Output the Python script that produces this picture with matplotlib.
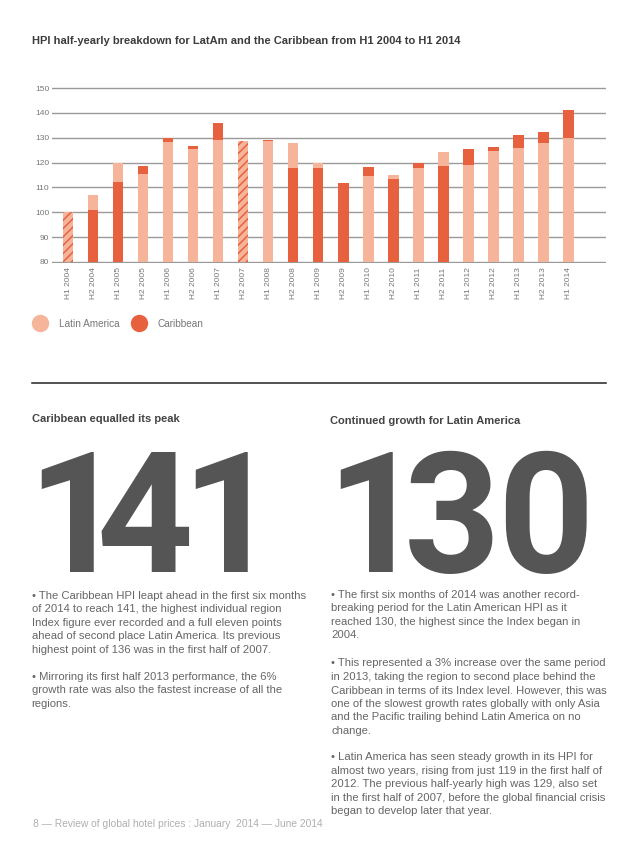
import logging
import numpy as np
import matplotlib
matplotlib.use('Agg')
import matplotlib.pyplot as plt
from matplotlib.lines import Line2D

logging.getLogger('matplotlib.font_manager').setLevel(logging.ERROR)
plt.rcParams['font.family'] = ['Liberation Sans', 'DejaVu Sans']
plt.rcParams['hatch.linewidth'] = 1.1

# dados
periodos = ['H1 2004', 'H2 2004', 'H1 2005', 'H2 2005', 'H1 2006', 'H2 2006',
            'H1 2007', 'H2 2007', 'H1 2008', 'H2 2008', 'H1 2009', 'H2 2009',
            'H1 2010', 'H2 2010', 'H1 2011', 'H2 2011', 'H1 2012', 'H2 2012',
            'H1 2013', 'H2 2013', 'H1 2014']
latam = [100, 107, 120, 115.5, 128.3, 125.5, 129, 128.5, 128.5, 127.8, 119.7,
         111.9, 114.6, 115, 118, 124.3, 119.2, 124.8, 126, 127.8, 130]
caribe = [100, 101, 112.2, 118.6, 129.8, 126.7, 136, 128.5, 129.1, 118, 118,
          111.6, 118.1, 113.2, 120, 118.6, 125.4, 126.4, 131.1, 132.2, 141]
y_ticks = [80, 90, 100, 110, 120, 130, 140, 150]

CLARO = '#F6B59B'
ESCURO = '#E8613F'
CINZA = '#555555'
W, H = 638, 846


def fx(px):
    return px / W


def fy(py):
    return 1 - py / H


def tinta(d, fam, size=100):
    # mede a tinta de um dígito (px) em relação ao ponto pedido (origem, linha de base)
    f = plt.figure(figsize=(4, 4), dpi=100)
    f.text(0.2, 0.2, d, family=fam, fontsize=size, fontweight='bold', ha='left', va='baseline')
    f.canvas.draw()
    a = np.asarray(f.canvas.buffer_rgba())[:, :, 0]
    plt.close(f)
    ys, xs = np.where(a < 128)
    return xs.min() - 80, xs.max() + 1 - 80, 320 - ys.min(), ys.max() + 1 - 320


# escolher uma fonte cujo "1" não tem pé (estilo Helvetica)
fonte_num = 'DejaVu Sans'
for fam in ['Liberation Sans', 'Arimo', 'Roboto', 'Open Sans', 'Inter', 'Noto Sans', 'Lato']:
    x0, x1, topo, fundo = tinta('1', fam)
    if (x1 - x0) / (topo + fundo) < 0.55:
        fonte_num = fam
        break

fig = plt.figure(figsize=(6.38, 8.46), dpi=100)

# título
fig.text(fx(32.5), fy(41), 'HPI half-yearly breakdown for LatAm and the Caribbean from H1 2004 to H1 2014',
         fontsize=8.05, fontweight='bold', color='#3c3c3c', va='center', ha='left')

# eixo do gráfico
ax = fig.add_axes([fx(52), fy(263.2), fx(606) - fx(52), fy(86.8) - fy(263.2)])
x = list(range(len(periodos)))
base = 80
barras_lat = ax.bar(x, [v - base for v in latam], bottom=base, width=0.41, color=CLARO, linewidth=0)
barras_car = ax.bar(x, [v - base for v in caribe], bottom=base, width=0.41, color=ESCURO, linewidth=0)
for i, (bl, bc) in enumerate(zip(barras_lat, barras_car)):
    if latam[i] == caribe[i]:
        # valores iguais: barra tracejada
        bc.set_visible(False)
        bl.set_hatch('////')
        bl.set_edgecolor(ESCURO)
        bl.set_linewidth(0)
    elif latam[i] < caribe[i]:
        bl.set_zorder(3)
    else:
        bc.set_zorder(3)

ax.set_xlim(-0.65, 21.5)
ax.set_ylim(79.5, 150.5)
ax.set_yticks(y_ticks)
ax.set_xticks(x, periodos, rotation=90)
ax.tick_params(axis='both', length=0, labelsize=6, labelcolor='#777777')
ax.tick_params(axis='x', pad=3)
ax.tick_params(axis='y', pad=2)
ax.grid(axis='y', color='#9a9a9a', linewidth=1)
ax.set_axisbelow(True)
for s in ax.spines.values():
    s.set_visible(False)

# legenda
handles = [Line2D([], [], marker='o', ls='', markersize=11.5, color=CLARO, label='Latin America'),
           Line2D([], [], marker='o', ls='', markersize=11.5, color=ESCURO, label='Caribbean')]
fig.legend(handles=handles, loc='center left', bbox_to_anchor=(fx(34.2), fy(324)), ncol=2,
           frameon=False, fontsize=7.2, labelcolor='#777777', borderpad=0, borderaxespad=0,
           handlelength=1.2, handletextpad=1.3, columnspacing=1.3)

# linha separadora
fig.add_artist(Line2D([fx(32), fx(606)], [fy(383), fy(383)], color='#222222', linewidth=1.1))

# subtítulos
fig.text(fx(32.5), fy(419), 'Caribbean equalled its peak', fontsize=8, fontweight='bold',
         color='#444444', va='center', ha='left')
fig.text(fx(330.5), fy(420.5), 'Continued growth for Latin America', fontsize=8, fontweight='bold',
         color='#444444', va='center', ha='left')

# números grandes: cada dígito posicionado pela sua tinta (espaçamento apertado)
_, _, topo1, fundo1 = tinta('1', fonte_num)
escala = 120 / (topo1 + fundo1)  # altura do "1" = 120 px, do topo 452 ao fundo 572
tamanho = 100 * escala
for num, centros in [('141', [66.7, 145.8, 220.8]), ('130', [365.4, 450.8, 545.0])]:
    for d, cx in zip(num, centros):
        x0, x1, _, _ = tinta(d, fonte_num)
        meio = (x0 + x1) / 2 * escala
        fig.text(fx(cx - meio), fy(572 - fundo1 * escala), d, family=fonte_num, fontsize=tamanho,
                 fontweight='bold', color=CINZA, ha='left', va='baseline')

texto_esq = [
    '• The Caribbean HPI leapt ahead in the first six months',
    'of 2014 to reach 141, the highest individual region',
    'Index figure ever recorded and a full eleven points',
    'ahead of second place Latin America. Its previous',
    'highest point of 136 was in the first half of 2007.',
    '',
    '• Mirroring its first half 2013 performance, the 6%',
    'growth rate was also the fastest increase of all the',
    'regions.',
]
texto_dir = [
    '• The first six months of 2014 was another record-',
    'breaking period for the Latin American HPI as it',
    'reached 130, the highest since the Index began in',
    '2004.',
    '',
    '• This represented a 3% increase over the same period',
    'in 2013, taking the region to second place behind the',
    'Caribbean in terms of its Index level. However, this was',
    'one of the slowest growth rates globally with only Asia',
    'and the Pacific trailing behind Latin America on no',
    'change.',
    '',
    '• Latin America has seen steady growth in its HPI for',
    'almost two years, rising from just 119 in the first half of',
    '2012. The previous half-yearly high was 129, also set',
    'in the first half of 2007, before the global financial crisis',
    'began to develop later that year.',
]

passo = 13.45
for k, linha in enumerate(texto_esq):
    fig.text(fx(31.5), fy(596 + k * passo), linha, fontsize=8.1, color='#666666', va='center', ha='left')
for k, linha in enumerate(texto_dir):
    fig.text(fx(331), fy(595 + k * passo + (1 if k > 4 else 0)), linha, fontsize=8.1,
             color='#666666', va='center', ha='left')

# rodapé
fig.text(fx(33), fy(824), '8 — Review of global hotel prices : January  2014 — June 2014',
         fontsize=7.4, color='#b0b0b0', va='center', ha='left')

fig.savefig('out.png', dpi=100)
